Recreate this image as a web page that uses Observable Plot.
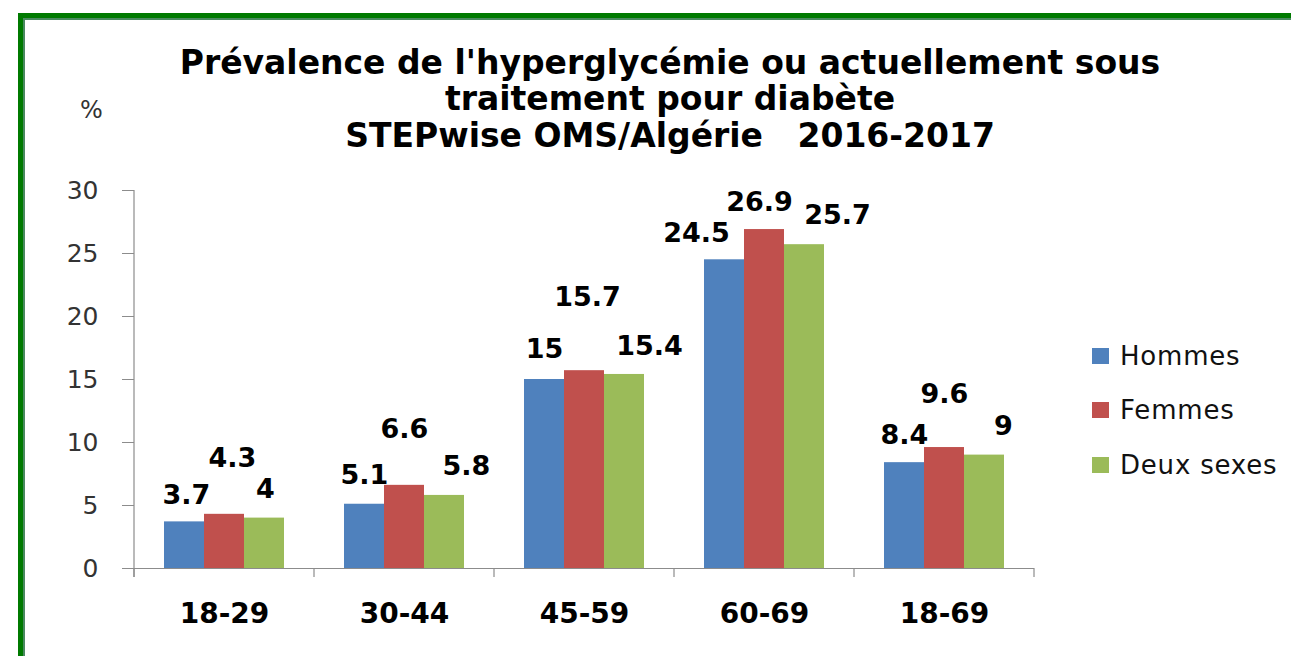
<!DOCTYPE html>
<html>
<head>
<meta charset="utf-8">
<script src="https://cdn.jsdelivr.net/npm/d3@7"></script>
<script src="https://cdn.jsdelivr.net/npm/@observablehq/plot@0.6"></script>
<style>
html, body { margin: 0; padding: 0; background: #fff; overflow: hidden; width: 1291px; height: 656px; }
#wrap { position: relative; width: 1291px; height: 656px; overflow: hidden; }
#frame { position: absolute; left: 18px; top: 13px; width: 1330px; height: 720px; box-sizing: border-box;
  border: 5px solid #007a00; box-shadow: inset 0 0 0 2px #4a8a60; }
#chart { position: absolute; left: 0; top: 0; }
.tline { position: absolute; left: 0; width: 1340px; text-align: center; white-space: pre;
  font-family: "DejaVu Sans", sans-serif; font-weight: bold; font-size: 33px; line-height: 36px; color: #000; }
#unit { position: absolute; left: 80px; top: 98px; font-family: "DejaVu Sans", sans-serif; font-size: 24px; line-height: 24px; color: #333; }
#legend { position: absolute; left: 1092px; top: 0; font-family: "DejaVu Sans", sans-serif; font-size: 26px; color: #111; letter-spacing: 0.8px; }
.li { position: absolute; left: 0; white-space: nowrap; height: 30px; }
.sw { position: absolute; left: 0; top: 7px; width: 17px; height: 16px; }
.lt { position: absolute; left: 28px; top: 0; line-height: 30px; }
svg g[aria-label="y-axis tick"] path { stroke: #8c8c8c; }
svg g[aria-label="y-axis tick label"] { fill: #333; }
</style>
</head>
<body>
<div id="wrap">
  <div id="frame"></div>
  <div id="chart"></div>
  <div class="tline" style="top:45px">Prévalence de l'hyperglycémie ou actuellement sous</div>
  <div class="tline" style="top:81px">traitement pour diabète</div>
  <div class="tline" style="top:118px">STEPwise OMS/Algérie   2016-2017</div>
  <div id="unit">%</div>
  <div id="legend"></div>
</div>
<script>
// ---- data ----
const categories = ["18-29", "30-44", "45-59", "60-69", "18-69"];
const series = ["Hommes", "Femmes", "Deux sexes"];
const hommes = [3.7, 5.1, 15, 24.5, 8.4];
const femmes = [4.3, 6.6, 15.7, 26.9, 9.6];
const deuxSexes = [4, 5.8, 15.4, 25.7, 9];
const yTicks = [0, 5, 10, 15, 20, 25, 30];
const colors = ["#4f81bd", "#c0504d", "#9bbb59"];

// ---- label placement nudges (style only, pixels): [category][series] ----
const labelDx = [[2, 8, 1], [0, 0, 22], [0, 3, 25], [-28, -5, 33], [0, 0, 19]];
const labelLift = [[18, 47, 20], [20, 47, 20], [22, 65, 19], [18, 19, 21], [19, 45, 20]];

const valuesBySeries = [hommes, femmes, deuxSexes];
const rows = [];
categories.forEach((c, i) => {
  series.forEach((s, j) => {
    rows.push({age: c, series: s, value: valuesBySeries[j][i], ci: i, si: j});
  });
});

const labelMarks = rows.map(r => Plot.text([r], {
  fx: "age", x: "series", y: "value",
  text: d => String(d.value),
  dx: labelDx[r.ci][r.si], dy: -labelLift[r.ci][r.si],
  lineAnchor: "bottom", textAnchor: "middle",
  fontSize: 27, fontWeight: "bold", fontFamily: "DejaVu Sans", fill: "#000"
}));

const chart = Plot.plot({
  width: 1291,
  height: 656,
  marginLeft: 134,
  marginRight: 257,
  marginTop: 190,
  marginBottom: 88,
  style: {fontFamily: "DejaVu Sans", background: "transparent", overflow: "visible"},
  fx: {domain: categories, padding: 0, label: null},
  x: {domain: series, paddingInner: 0, paddingOuter: 0.75, axis: null},
  y: {domain: [0, 30], label: null},
  color: {domain: series, range: colors},
  marks: [
    Plot.barY(rows, {fx: "age", x: "series", y: "value", fill: "series"}),
    Plot.ruleY([0], {stroke: "#8c8c8c", strokeWidth: 1.2}),
    Plot.axisY({ticks: yTicks, tickSize: 12, tickPadding: 24, fontSize: 25, label: null}),
    Plot.axisFx({anchor: "bottom", tickSize: 0, tickPadding: 35, fontSize: 28, fontWeight: "bold", label: null, fill: "#000"}),
    ...labelMarks
  ]
});
document.getElementById("chart").appendChild(chart);

// axis line and category boundary ticks, from the plot's own scales
const fxS = chart.scale("fx"), yS = chart.scale("y");
const y0 = yS.apply(0), yTop = yS.apply(30);
const bounds = categories.map(c => fxS.apply(c));
bounds.push(fxS.apply(categories[categories.length - 1]) + fxS.bandwidth);
const g = d3.select(chart).append("g").attr("stroke", "#8c8c8c").attr("stroke-width", 1.2);
g.append("line").attr("x1", bounds[0]).attr("x2", bounds[0]).attr("y1", yTop).attr("y2", y0 + 9);
bounds.forEach(b => g.append("line").attr("x1", b).attr("x2", b).attr("y1", y0).attr("y2", y0 + 9));

// legend
const legendTops = [341, 395, 450];
const legend = d3.select("#legend");
series.forEach((s, i) => {
  const item = legend.append("div").attr("class", "li").style("top", legendTops[i] + "px");
  item.append("div").attr("class", "sw").style("background", colors[i]);
  item.append("div").attr("class", "lt").text(s);
});
</script>
</body>
</html>
